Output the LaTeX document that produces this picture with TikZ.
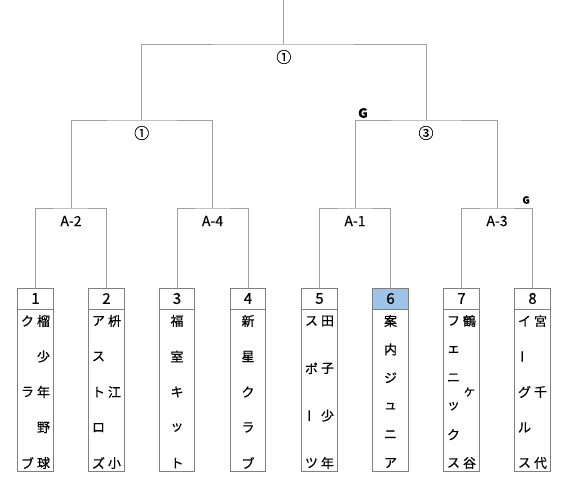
\documentclass[tikz,border=0pt]{standalone}
\usepackage{fontspec}
\setmainfont[FakeBold=0.4]{Noto Sans CJK JP}
\definecolor{lineg}{HTML}{A0A0A0}
\definecolor{boxg}{HTML}{808080}
\definecolor{hl}{HTML}{9DC3E6}
\newcommand\tatebo{\rotatebox[origin=c]{90}{ー}}
\tikzset{
 conn/.style={draw=lineg, line width=0.9pt},
 numcell/.style={draw=boxg, line width=0.8pt, minimum width=35.5pt, minimum height=21pt, inner sep=0pt, font=\fontsize{15}{15}\selectfont},
 bodybox/.style={draw=boxg, line width=0.8pt, minimum width=35.5pt, minimum height=162pt, inner sep=0pt},
 chr/.style={inner sep=0pt, font=\fontsize{13}{13}\selectfont},
 rlabel/.style={font=\fontsize{14}{14}\selectfont, inner sep=1pt},
 circ/.style={font=\fontsize{15}{15}\selectfont, inner sep=1pt},
}
\newcommand\tcol[4]{%
 \foreach \chx [count=\k] in {#4} {
   \pgfmathsetmacro\yy{321+(\k-1)*142/(#3-1)}
   \node[chr] (#1-\k) at (#2,\yy) {\chx};
 }}
\begin{document}
\begin{tikzpicture}[x=1pt,y=-1pt]
\useasboundingbox (0,0) rectangle (568,483);
% boxes
\foreach \i/\x in {1/35.5,2/106.5,3/177,4/248,5/319.5,6/390.5,7/461.5,8/532.5}{
  \node[bodybox] (b\i) at (\x,390) {};
}
\node[numcell] (n1) at (35.5,298.5) {1};
\node[numcell] (n2) at (106.5,298.5) {2};
\node[numcell] (n3) at (177,298.5) {3};
\node[numcell] (n4) at (248,298.5) {4};
\node[numcell] (n5) at (319.5,298.5) {5};
\node[numcell, fill=hl] (n6) at (390.5,298.5) {6};
\node[numcell] (n7) at (461.5,298.5) {7};
\node[numcell] (n8) at (532.5,298.5) {8};
% junctions
\coordinate (q1) at (71,208);
\coordinate (q2) at (212.5,208);
\coordinate (q3) at (355,208);
\coordinate (q4) at (497,208);
\coordinate (s1) at (141.75,120);
\coordinate (s2) at (426,120);
\coordinate (f) at (283.9,44);
\coordinate (ftop) at (283.9,0);
% connectors
\draw[conn] (n1.north) |- (q1) -| (n2.north);
\draw[conn] (n3.north) |- (q2) -| (n4.north);
\draw[conn] (n5.north) |- (q3) -| (n6.north);
\draw[conn] (n7.north) |- (q4) -| (n8.north);
\draw[conn] (q1) |- (s1) -| (q2);
\draw[conn] (q3) |- (s2) -| (q4);
\draw[conn] (s1) |- (f) -| (s2);
\draw[conn] (f) -- (ftop);
% labels
\node[rlabel] (la2) at (71,221) {A-2};
\node[rlabel] (la4) at (212.5,221) {A-4};
\node[rlabel] (la1) at (355,221) {A-1};
\node[rlabel] (la3) at (497,221) {A-3};
\node[circ] (c1) at (141.75,133) {①};
\node[circ] (c3) at (426,133) {③};
\node[circ] (cf) at (283.9,57) {①};
\node[font=\fontsize{13}{13}\selectfont\bfseries, inner sep=0pt] (g1) at (363,113) {G};
\node[font=\fontsize{10}{10}\selectfont\bfseries, inner sep=0pt] (g2) at (526,200) {G};
% names
\tcol{t1l}{27.5}{3}{ク,ラ,ブ}
\tcol{t1r}{43.5}{5}{榴,少,年,野,球}
\tcol{t2l}{98.5}{5}{ア,ス,ト,ロ,ズ}
\tcol{t2r}{114.5}{3}{枡,江,小}
\tcol{t3}{177}{5}{福,室,キ,ッ,ト}
\tcol{t4}{248}{5}{新,星,ク,ラ,ブ}
\tcol{t5l}{311.5}{4}{ス,ポ,\tatebo,ツ}
\tcol{t5r}{327.5}{4}{田,子,少,年}
\tcol{t6}{390.5}{6}{案,内,ジ,ュ,ニ,ア}
\tcol{t7l}{453.5}{6}{フ,ェ,ニ,ッ,ク,ス}
\tcol{t7r}{469.5}{3}{鶴,ヶ,谷}
\tcol{t8l}{524.5}{5}{イ,\tatebo,グ,ル,ス}
\tcol{t8r}{540.5}{3}{宮,千,代}
\end{tikzpicture}
\end{document}
